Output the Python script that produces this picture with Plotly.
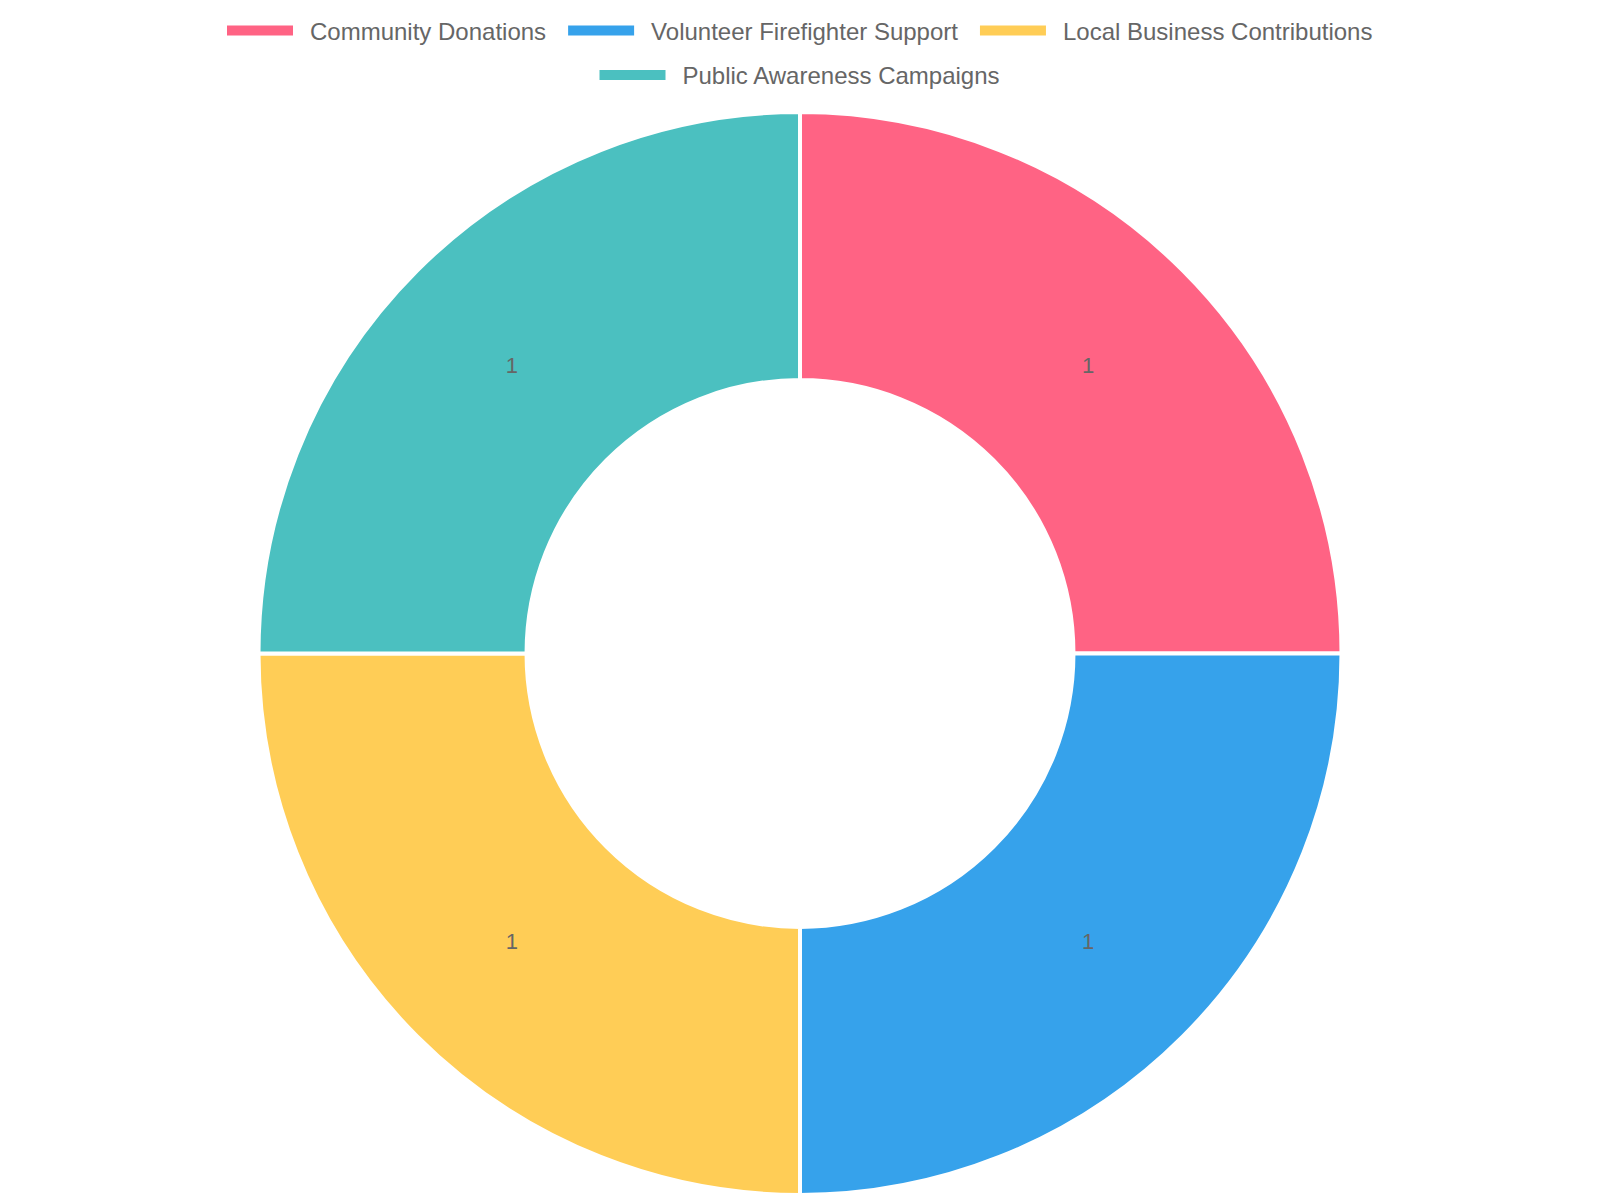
import plotly.graph_objects as go

categories = ["Community Donations", "Volunteer Firefighter Support",
              "Local Business Contributions", "Public Awareness Campaigns"]
values = [1, 1, 1, 1]
colors = ["rgb(255,99,132)", "rgb(54,162,235)", "rgb(255,205,86)", "rgb(75,192,192)"]
legend_rows = ["legend", "legend", "legend", "legend2"]

FONT = "Liberation Sans, Arial, sans-serif"

fig = go.Figure(go.Pie(
    labels=categories,
    values=values,
    hole=0.505,
    sort=False,
    direction="clockwise",
    rotation=0,
    marker=dict(colors=colors, line=dict(color="white", width=4)),
    textinfo="value",
    textposition="inside",
    insidetextorientation="horizontal",
    textfont=dict(family=FONT, size=22, color="#666666"),
    domain=dict(x=[0, 1], y=[(1200 - 1195) / 1200, (1200 - 112) / 1200]),
    hoverinfo="label+value",
    showlegend=False,
))

# legend entries (one per category), split over two centred rows
row_counts = {lg: legend_rows.count(lg) for lg in legend_rows}
seen = {}
for cat, col, lg in zip(categories, colors, legend_rows):
    seen[lg] = seen.get(lg, 0) + 1
    is_last = seen[lg] == row_counts[lg]
    label = "\u2002" + cat + ("" if is_last else "\u2002")
    fig.add_trace(go.Scatter(
        x=[None], y=[None], mode="lines", name=label,
        line=dict(color=col, width=10),
        legend=lg, hoverinfo="skip", showlegend=True,
    ))

legend_style = dict(orientation="h", xanchor="center", x=0.5, yanchor="middle",
                    font=dict(family=FONT, size=24, color="#666666"),
                    bgcolor="rgba(0,0,0,0)", traceorder="normal", itemwidth=66)

fig.update_layout(
    width=1600, height=1200,
    margin=dict(l=0, r=0, t=0, b=0),
    paper_bgcolor="white", plot_bgcolor="white",
    font=dict(family=FONT, color="#666666"),
    xaxis=dict(visible=False),
    yaxis=dict(visible=False),
    legend=dict(y=1 - 31 / 1200, **legend_style),
    legend2=dict(y=1 - 75.5 / 1200, **legend_style),
)

fig.write_html("out.html")
